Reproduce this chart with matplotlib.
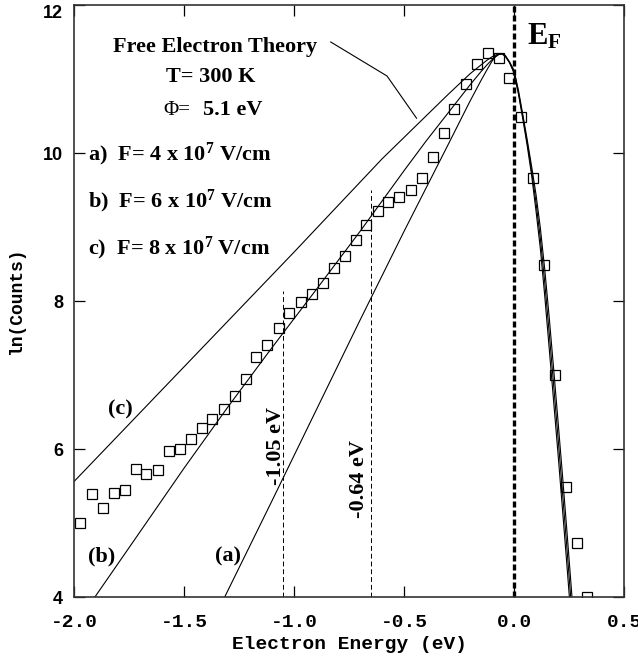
import matplotlib
matplotlib.use("Agg")
import matplotlib.pyplot as plt

plt.rcParams['mathtext.fontset'] = 'custom'
plt.rcParams['mathtext.rm'] = 'Liberation Serif:bold'
plt.rcParams['mathtext.bf'] = 'Liberation Serif:bold'
plt.rcParams['mathtext.it'] = 'Liberation Serif:bold'
plt.rcParams['mathtext.default'] = 'rm'

# measured data (squares)
data_x = [-1.971, -1.920, -1.868, -1.818, -1.768, -1.720, -1.671, -1.620, -1.568, -1.518,
          -1.470, -1.420, -1.371, -1.320, -1.270, -1.220, -1.171, -1.121, -1.070, -1.021,
          -0.968, -0.920, -0.868, -0.819, -0.770, -0.720, -0.671, -0.620, -0.571, -0.521,
          -0.470, -0.420, -0.370, -0.319, -0.271, -0.220, -0.170, -0.120, -0.068, -0.021,
          0.030, 0.085, 0.136, 0.186, 0.235, 0.285, 0.333]
data_y = [5.00, 5.39, 5.20, 5.40, 5.45, 5.73, 5.66, 5.72, 5.97, 6.00,
          6.14, 6.28, 6.40, 6.54, 6.72, 6.94, 7.24, 7.41, 7.63, 7.84,
          7.99, 8.10, 8.25, 8.44, 8.61, 8.82, 9.03, 9.22, 9.34, 9.40,
          9.50, 9.66, 9.95, 10.27, 10.59, 10.93, 11.20, 11.35, 11.28, 11.02,
          10.49, 9.66, 8.49, 7.00, 5.49, 4.73, 4.00]

# free electron theory curves (left branch, then shared-grid right branch)
left_a_x = [-1.315, -1.1, -0.9, -0.7, -0.5, -0.3, -0.2, -0.15, -0.12, -0.10, -0.085, -0.07, -0.055]
left_a_y = [4.00, 5.30, 6.52, 7.74, 8.94, 10.11, 10.70, 10.98, 11.14, 11.24, 11.30, 11.33, 11.34]
left_b_x = [-1.905, -1.7, -1.5, -1.3, -1.1, -0.9, -0.7, -0.5, -0.4, -0.3, -0.2, -0.15, -0.12, -0.10, -0.085, -0.07, -0.055]
left_b_y = [4.00, 4.88, 5.74, 6.57, 7.37, 8.15, 8.94, 9.76, 10.16, 10.54, 10.92, 11.10, 11.20, 11.26, 11.30, 11.33, 11.34]
left_c_x = [-2.0, -1.5, -1.0, -0.6, -0.4, -0.3, -0.2, -0.15, -0.12, -0.10, -0.085, -0.07, -0.055]
left_c_y = [5.56, 7.11, 8.66, 9.92, 10.50, 10.79, 11.07, 11.19, 11.26, 11.30, 11.32, 11.34, 11.34]

right_x = [-0.04, -0.02, 0.0, 0.02, 0.04, 0.06, 0.08, 0.10, 0.12, 0.14, 0.16, 0.18, 0.20, 0.22, 0.24, 0.26, 0.28]
right_a_y = [11.31, 11.22, 11.08, 10.80, 10.46, 10.10, 9.70, 9.22, 8.70, 8.06, 7.36, 6.65, 5.94, 5.20, 4.45, 3.68, 2.90]
right_b_y = [11.31, 11.22, 11.10, 10.82, 10.49, 10.14, 9.76, 9.33, 8.84, 8.24, 7.57, 6.87, 6.16, 5.43, 4.68, 3.91, 3.12]
right_c_y = [11.32, 11.23, 11.12, 10.85, 10.52, 10.18, 9.82, 9.44, 8.98, 8.42, 7.78, 7.09, 6.38, 5.66, 4.91, 4.14, 3.36]

pointer_x = [-0.833, -0.577, -0.443]
pointer_y = [11.50, 11.04, 10.47]

ef_x = 0.0
marker_1 = -1.05
marker_1_top = 8.13
marker_2 = -0.65
marker_2_top = 9.50

xticks = [-2.0, -1.5, -1.0, -0.5, 0.0, 0.5]
yticks = [4, 6, 8, 10, 12]

fig = plt.figure(figsize=(6.38, 6.64), dpi=100)
ax = fig.add_axes([74/638, 67/664, 550/638, 592/664])
ax.set_xlim(-2.0, 0.5)
ax.set_ylim(4, 12)

lw = 0.8
for lx, ly, ry in [(left_a_x, left_a_y, right_a_y), (left_b_x, left_b_y, right_b_y), (left_c_x, left_c_y, right_c_y)]:
    ax.plot(lx + right_x, ly + ry, color='black', lw=lw, solid_joinstyle='round')

ax.plot(data_x, data_y, linestyle='none', marker='s', markersize=7, markerfacecolor='none',
        markeredgecolor='black', markeredgewidth=0.9)

ax.plot(pointer_x, pointer_y, color='black', lw=0.8)

ax.plot([ef_x, ef_x], [4, 12], color='black', lw=2.4, dashes=(1.8, 0.9))
ax.plot([marker_1, marker_1], [4, marker_1_top], color='black', lw=0.7, dashes=(5, 3))
ax.plot([marker_2, marker_2], [4, marker_2_top], color='black', lw=0.7, dashes=(5, 3))

tfont = dict(family='Liberation Serif', weight='bold', fontsize=16)
ax.text(-1.359, 11.365, 'Free Electron Theory', ha='center', va='baseline', **tfont)
ax.text(-1.377, 10.96, 'T= 300 K', ha='center', va='baseline', **tfont)
ax.text(-1.473, 10.51, '\u03a6=', ha='right', va='baseline', family='Liberation Serif', weight='normal', fontsize=15)
ax.text(-1.414, 10.51, '5.1 eV', ha='left', va='baseline', **tfont)
ax.text(-1.936, 9.905, r'a)  F= 4 x 10$^{7}$ V/cm', ha='left', va='baseline', **tfont)
ax.text(-1.936, 9.27, r'b)  F= 6 x 10$^{7}$ V/cm', ha='left', va='baseline', **tfont)
ax.text(-1.936, 8.635, r'c)  F= 8 x 10$^{7}$ V/cm', ha='left', va='baseline', **tfont)
ax.text(0.059, 11.46, r'E$_{\mathrm{F}}$', ha='left', va='baseline', family='Liberation Serif',
        weight='bold', fontsize=22)
ax.text(-1.791, 6.54, '(c)', ha='center', va='center', **tfont)
ax.text(-1.875, 4.55, '(b)', ha='center', va='center', **tfont)
ax.text(-1.302, 4.55, '(a)', ha='center', va='center', **tfont)
ax.text(-1.082, 6.04, '-1.05 eV', ha='center', va='center', rotation=90, **tfont)
ax.text(-0.705, 5.59, '-0.64 eV', ha='center', va='center', rotation=90, **tfont)

ax.set_xticks(xticks)
ax.set_yticks(yticks)
ax.set_xticklabels(['%.1f' % v for v in xticks])
ax.set_yticklabels([str(v) for v in yticks])
ax.tick_params(direction='in', length=8, width=0.9, top=True, right=True)
ax.tick_params(axis='x', pad=12)
ax.tick_params(axis='y', pad=8)
for lab in ax.get_xticklabels():
    lab.set_family('Liberation Mono')
    lab.set_weight('bold')
    lab.set_fontsize(14)
for lab in ax.get_yticklabels():
    lab.set_family('Liberation Sans')
    lab.set_weight('bold')
    lab.set_fontsize(13)
ax.get_yticklabels()[-1].set_va('top')

for s in ax.spines.values():
    s.set_linewidth(1.2)
    s.set_color('#333333')

ax.set_xlabel('Electron Energy (eV)', family='Liberation Mono', weight='bold', fontsize=14)
ax.set_ylabel('ln(Counts)', family='Liberation Mono', weight='bold', fontsize=13)
ax.xaxis.set_label_coords(0.5, -0.081)
ax.xaxis.label.set_va('center')
ax.yaxis.set_label_coords(-0.104, 0.5)
ax.yaxis.label.set_va('center')

fig.savefig('out.png', dpi=100)
